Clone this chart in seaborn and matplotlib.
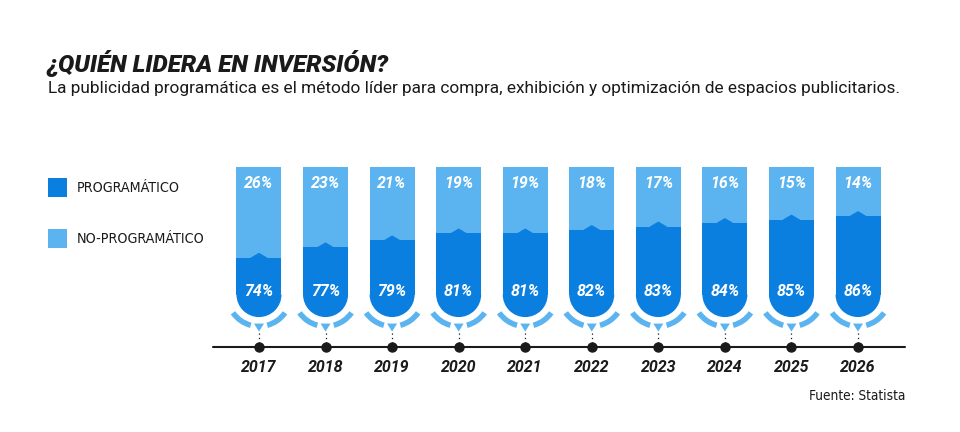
import matplotlib
matplotlib.use("Agg")
import matplotlib.pyplot as plt
from matplotlib.patches import Wedge, Polygon, Rectangle
from matplotlib.transforms import ScaledTranslation
import pandas as pd
import seaborn as sns

# datos del grafico
years = ["2017", "2018", "2019", "2020", "2021", "2022", "2023", "2024", "2025", "2026"]
programatico = [74, 77, 79, 81, 81, 82, 83, 84, 85, 86]
no_programatico = [26, 23, 21, 19, 19, 18, 17, 16, 15, 14]

DARK = "#0A7FE0"
LIGHT = "#5BB4F0"
INK = "#1a1a1a"
BASE = 63.4      # donde termina la parte recta de cada barra
Y_LOW = 48.3     # linea de tiempo
W, H = 960, 432

sns.set_theme(style="white")
plt.rcParams["font.family"] = ["Roboto", "DejaVu Sans"]

df = pd.DataFrame({"year": years, "prog": programatico, "noprog": no_programatico})
df["total"] = df["prog"] + df["noprog"]

fig = plt.figure(figsize=(9.6, 4.32), dpi=100)
ax = fig.add_axes([213 / W, 1 - 347 / H, 692 / W, (347 - 167.5) / H])

sns.barplot(data=df, x="year", y="total", color=LIGHT, width=0.676,
            saturation=1, errorbar=None, ax=ax)
sns.barplot(data=df, x="year", y="prog", color=DARK, width=0.676,
            saturation=1, errorbar=None, ax=ax)

# las barras empiezan en BASE, no en cero
for p in ax.patches:
    top = p.get_height()
    p.set_y(BASE)
    p.set_height(top - BASE)
    p.set_linewidth(0)

ax.set_xlim(-46 / 66.57, 9 + 47 / 66.57)
ax.set_ylim(Y_LOW, 100)
ax.axis("off")

# linea de tiempo
ax.plot(ax.get_xlim(), [Y_LOW, Y_LOW], color=INK, lw=1.5, clip_on=False)

lbl = dict(ha="center", va="center", fontsize=11.5, fontweight="bold",
           fontstyle="italic", textcoords="offset points")

for i, (yr, p, n) in enumerate(zip(years, programatico, no_programatico)):
    tb = fig.dpi_scale_trans + ScaledTranslation(i, BASE, ax.transData)
    tt = fig.dpi_scale_trans + ScaledTranslation(i, p, ax.transData)

    # fondo redondeado
    ax.add_patch(Wedge((0, 0), 0.225, 180, 360, color=DARK, lw=0,
                       transform=tb, clip_on=False))
    # arcos claros debajo
    for a1, a2 in [(215, 255), (285, 325)]:
        ax.add_patch(Wedge((0, 0), 0.345, a1, a2, width=0.055, color=LIGHT,
                           lw=0, transform=tb, clip_on=False))
    ax.add_patch(Polygon([(-0.05, -0.29), (0.05, -0.29), (0, -0.37)],
                         color=LIGHT, lw=0, transform=tb, clip_on=False))
    ax.plot([0, 0], [-0.385, -0.49], transform=tb, ls=(0, (1, 2.5)), lw=0.9,
            color=INK, clip_on=False)

    # pico sobre el nivel oscuro
    ax.add_patch(Polygon([(-0.085, -0.01), (-0.085, 0), (0, 0.05),
                          (0.085, 0), (0.085, -0.01)],
                         color=DARK, lw=0, transform=tt, clip_on=False))

    ax.annotate(f"{n}%", (i, 100), xytext=(0, -11.5), color="white", **lbl)
    ax.annotate(f"{p}%", (i, BASE), xytext=(0, 2.5), color="white", **lbl)
    ax.annotate(yr, (i, Y_LOW), xytext=(0, -14.5), color=INK, **lbl)

ax.scatter(range(len(years)), [Y_LOW] * len(years), s=42, color=INK,
           zorder=5, clip_on=False)

# titulo y subtitulo
fig.text(47 / W, 1 - 72 / H, "¿QUIÉN LIDERA EN INVERSIÓN?", fontsize=17.5,
         fontweight="black", fontstyle="italic", color=INK, va="baseline")
fig.text(48 / W, 1 - 93 / H,
         "La publicidad programática es el método líder para compra, exhibición "
         "y optimización de espacios publicitarios.",
         fontsize=12.4, color=INK, va="baseline")

# leyenda
for yc, color, label in [(187.5, DARK, "PROGRAMÁTICO"),
                         (238.5, LIGHT, "NO-PROGRAMÁTICO")]:
    fig.add_artist(Rectangle((48 / W, 1 - (yc + 9.5) / H), 19 / W, 19 / H,
                             transform=fig.transFigure, color=color, lw=0))
    fig.text(77 / W, 1 - yc / H, label, family="DejaVu Sans",
             fontstretch="condensed", fontsize=10.3, color=INK, va="center")

fig.text(905 / W, 1 - 400 / H, "Fuente: Statista", family="DejaVu Sans",
         fontstretch="condensed", fontsize=9.8, color=INK, ha="right",
         va="baseline")

fig.savefig("out.png", dpi=100, facecolor="white")
